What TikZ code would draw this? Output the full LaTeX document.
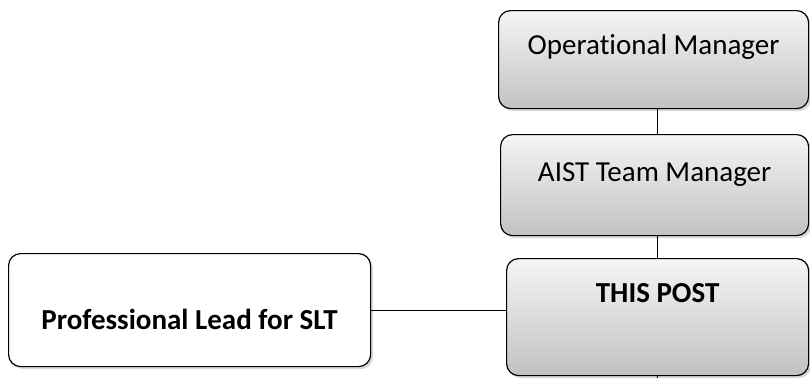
\documentclass[tikz,border=0pt]{standalone}
\usepackage{fontspec}
\setmainfont[Ligatures=NoCommon]{Carlito}
\usetikzlibrary{shadows}
\tikzset{
    postbox/.style={draw, line width=1.2pt, rounded corners=12pt, inner sep=0pt,
        anchor=north west, font=\fontsize{29}{34}\selectfont,
        top color=black!4, bottom color=black!24,
        drop shadow={shadow xshift=2.5pt, shadow yshift=-2.5pt, fill=black!30, opacity=.5}},
    leadbox/.style={postbox, fill=white, top color=white, bottom color=white,
        font=\fontsize{29}{34}\selectfont\bfseries},
    link/.style={draw, line width=.9pt}
}
\begin{document}
\begin{tikzpicture}[x=1pt,y=-1pt]
                \useasboundingbox (0,0) rectangle (810,378);

                \node[postbox, minimum width=310pt, text height=44pt, text depth=54pt] (opm) at (498,10) {Operational Manager};
                \node[postbox, minimum width=308pt, text height=47pt, text depth=54pt] (aist) at (500,134) {AIST Team Manager};
                \node[postbox, minimum width=302pt, text height=44pt, text depth=73pt, font=\fontsize{29}{34}\selectfont\bfseries] (post) at (506,258) {THIS POST};
                \node[leadbox, minimum width=362pt, text height=76pt, text depth=37pt] (lead) at (8,253) {Professional Lead for SLT};

                \coordinate (bottom) at (657,378);

                \draw[link] (opm.south -| post.north) -- (aist.north -| post.north);
                \draw[link] (aist.south -| post.north) -- (post.north);
                \draw[link] (post.south) -- (bottom);
                \draw[link] (lead.east) -- (lead.east -| post.west);
\end{tikzpicture}
\end{document}
